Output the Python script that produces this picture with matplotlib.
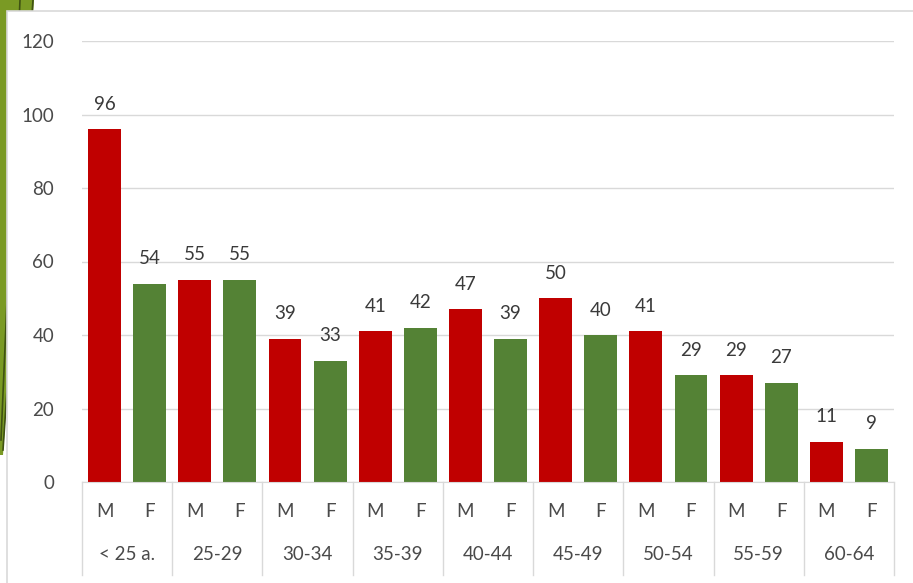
import numpy as np
import matplotlib.pyplot as plt
from matplotlib.patches import Polygon, Rectangle
from matplotlib.transforms import blended_transform_factory

plt.rcParams['font.family'] = ['Lato', 'DejaVu Sans']

groups = ['< 25 a.', '25-29', '30-34', '35-39', '40-44', '45-49', '50-54', '55-59', '60-64']
sexes = ['M', 'F']
masc = [96, 55, 39, 41, 47, 50, 41, 29, 11]
fem = [54, 55, 33, 42, 39, 40, 29, 27, 9]

W, H = 913, 583
fs = 13.5
fig = plt.figure(figsize=(W / 100, H / 100), dpi=100)
fig.patch.set_facecolor('white')

# fondo: franja verde de la diapositiva + marco del grafico
bg = fig.add_axes([0, 0, 1, 1], zorder=0)
bg.set_xlim(0, W)
bg.set_ylim(H, 0)
bg.axis('off')
bg.add_patch(Polygon([(0, 0), (34, 0), (3, 455), (0, 455)], closed=True,
                     facecolor='#7A9A24', edgecolor='none', zorder=1))
bg.plot([20, 1], [0, 440], color='#3F5212', lw=1.2, zorder=2)
bg.plot([33, 3], [0, 450], color='#3F5212', lw=1.2, zorder=2)
bg.add_patch(Rectangle((6.5, 11), W, H, facecolor='white', edgecolor='#D9D9D9',
                       lw=1.2, zorder=3))

# grafico de barras
ax = fig.add_axes([82 / W, (H - 482) / H, (894 - 82) / W, (482 - 41) / H], zorder=1)
ax.patch.set_alpha(0)

vals = []
cols = []
for m, f in zip(masc, fem):
    vals += [m, f]
    cols += ['#C00000', '#548235']
x = np.arange(len(vals))
ax.bar(x, vals, width=0.73, color=cols, zorder=2)

for xi, v in zip(x, vals):
    ax.annotate(str(v), (xi, v), xytext=(0, 18), textcoords='offset points',
                ha='center', va='center', fontsize=fs, color='#3A3A3A')

ax.set_xlim(-0.5, len(vals) - 0.5)
ax.set_ylim(0, 120)
ax.set_yticks(np.arange(0, 121, 20))
ax.grid(axis='y', color='#D9D9D9', lw=1, zorder=0)
ax.set_axisbelow(True)
for s in ['top', 'right', 'left']:
    ax.spines[s].set_visible(False)
ax.spines['bottom'].set_color('#D9D9D9')
ax.tick_params(axis='y', length=0, pad=20, labelsize=fs, labelcolor='#4A4A4A')
ax.tick_params(axis='x', length=0, pad=21, labelsize=fs, labelcolor='#4A4A4A')
ax.set_xticks(x)
ax.set_xticklabels(sexes * len(groups))
for lbl in ax.get_xticklabels():
    lbl.set_verticalalignment('center')

# etiquetas de grupo y separadores
tr = blended_transform_factory(ax.transData, ax.transAxes)
hax = 482 - 41
for i, g in enumerate(groups):
    ax.text(2 * i + 0.5, -73 / hax, g, transform=tr, ha='center', va='center',
            fontsize=fs, color='#4A4A4A')
for i in range(len(groups) + 1):
    ax.plot([2 * i - 0.5, 2 * i - 0.5], [0, -93 / hax], transform=tr,
            color='#D9D9D9', lw=1, clip_on=False)

fig.savefig('out.png', dpi=100)
